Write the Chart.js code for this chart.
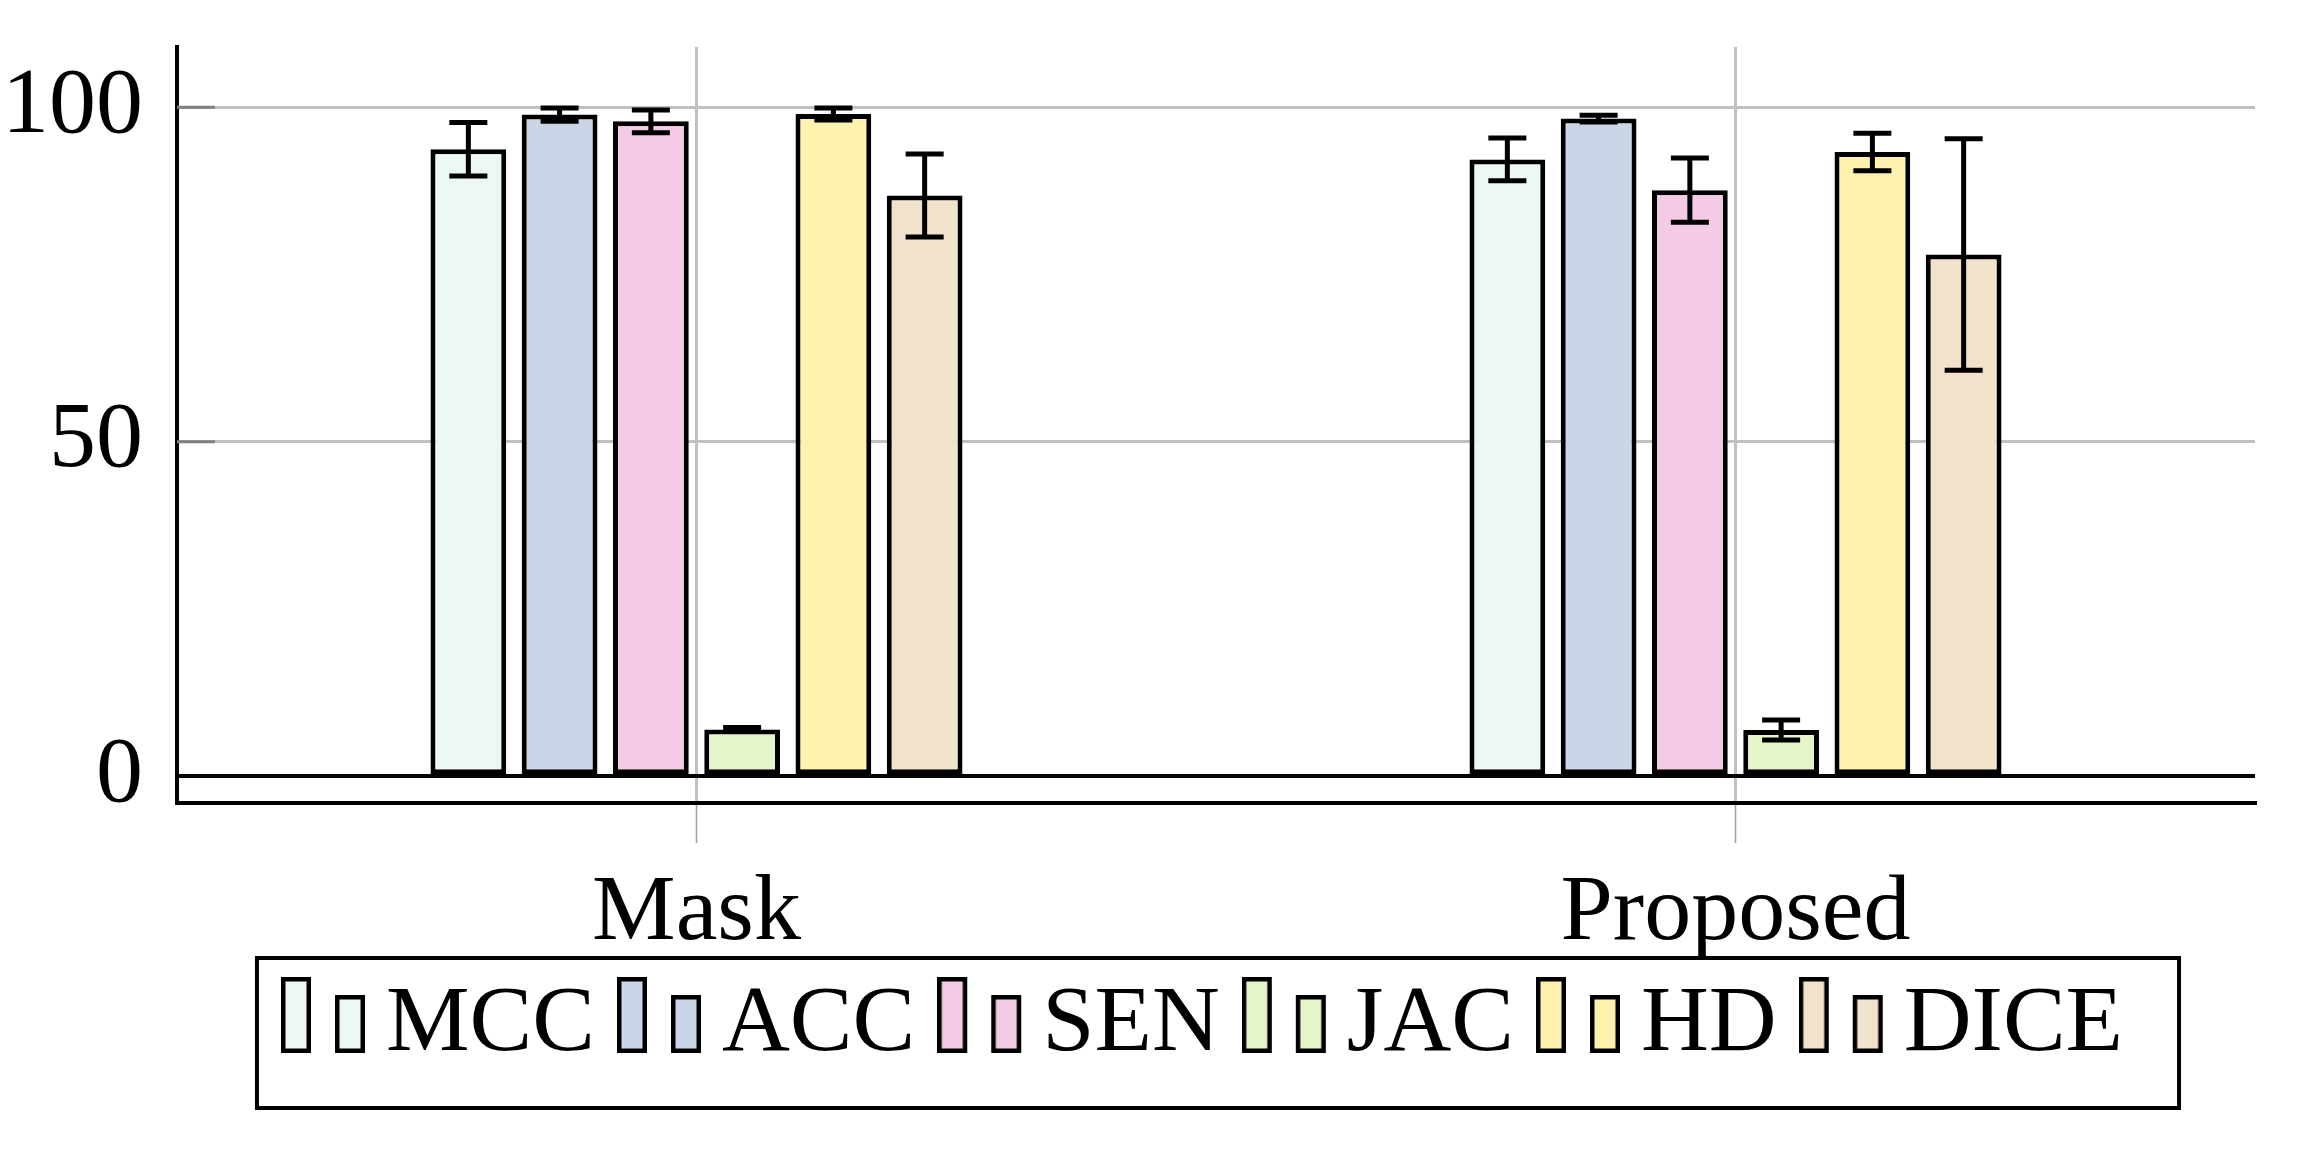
<!DOCTYPE html>
<html>
<head>
<meta charset="utf-8">
<script src="https://cdn.jsdelivr.net/npm/chart.js@4.4.1/dist/chart.umd.min.js"></script>
<style>
    html, body { margin: 0; padding: 0; background: #fff; }
    canvas { display: block; }
</style>
</head>
<body>
<canvas id="chart" width="2301" height="1157"></canvas>
<script>
var methods = ['Mask', 'Proposed'];
var metrics = ['MCC', 'ACC', 'SEN', 'JAC', 'HD', 'DICE'];
var colors = ['#ecf8f1', '#cbd5e8', '#f4cae4', '#e6f5c9', '#fff2ae', '#f1e2cc'];

// mean values, [Mask, Proposed]
var mcc = [93.7, 92.2];
var acc = [98.9, 98.3];
var sen = [97.9, 87.6];
var jac = [7.0, 6.9];
var hd = [99.0, 93.3];
var dice = [86.8, 78.0];

// error bar half heights
var mccErr = [4.0, 3.2];
var accErr = [1.0, 0.5];
var senErr = [1.7, 4.8];
var jacErr = [0.3, 1.5];
var hdErr = [0.9, 2.8];
var diceErr = [6.2, 17.3];

var yTicks = [0, 50, 100];

var values = [mcc, acc, sen, jac, hd, dice];
var errors = [mccErr, accErr, senErr, jacErr, hdErr, diceErr];
var FONT = 'Liberation Serif';

function legendIcon(color) {
    // two bars, like the pgfplots ybar legend image
    var c = document.createElement('canvas');
    c.width = 86;
    c.height = 100;
    var ctx = c.getContext('2d');
    ctx.fillStyle = color;
    ctx.strokeStyle = '#000';
    ctx.lineWidth = 4.5;
    [[0, 2, 30, 76], [54, 20, 30, 58]].forEach(function (r) {
        ctx.fillRect(r[0] + 2.25, r[1] + 2.25, r[2] - 4.5, r[3] - 4.5);
        ctx.strokeRect(r[0] + 2.25, r[1] + 2.25, r[2] - 4.5, r[3] - 4.5);
    });
    return c;
}

var icons = colors.map(legendIcon);

var errorBars = {
    id: 'errorBars',
    afterDatasetsDraw: function (chart) {
        var ctx = chart.ctx;
        var y = chart.scales.y;
        ctx.save();
        ctx.strokeStyle = '#000';
        ctx.lineWidth = 5;
        chart.data.datasets.forEach(function (ds, i) {
            var meta = chart.getDatasetMeta(i);
            meta.data.forEach(function (bar, j) {
                var top = y.getPixelForValue(ds.data[j] + ds.errors[j]);
                var bot = y.getPixelForValue(ds.data[j] - ds.errors[j]);
                ctx.beginPath();
                ctx.moveTo(bar.x, top);
                ctx.lineTo(bar.x, bot);
                ctx.moveTo(bar.x - 19, top);
                ctx.lineTo(bar.x + 19, top);
                ctx.moveTo(bar.x - 19, bot);
                ctx.lineTo(bar.x + 19, bot);
                ctx.stroke();
            });
        });
        ctx.restore();
    }
};

var extras = {
    id: 'extras',
    afterLayout: function (chart) {
        // x labels hang below the axis box, keep them from being clipped
        chart.scales.x.bottom += 60;
    },
    beforeDatasetsDraw: function (chart) {
        // short tick marks inside the y axis
        var ctx = chart.ctx;
        var y = chart.scales.y;
        var left = chart.chartArea.left;
        ctx.save();
        ctx.strokeStyle = '#808080';
        ctx.lineWidth = 3;
        yTicks.forEach(function (v) {
            if (v === 0) return;
            var py = y.getPixelForValue(v);
            ctx.beginPath();
            ctx.moveTo(left, py);
            ctx.lineTo(left + 38, py);
            ctx.stroke();
        });
        ctx.restore();
    },
    afterDraw: function (chart) {
        // frame round the legend
        var lg = chart.legend;
        var hb = lg.legendHitBoxes;
        if (!hb || !hb.length) return;
        var last = hb[hb.length - 1];
        var x1 = hb[0].left - 52;
        var x2 = last.left + last.width + 56;
        var ctx = chart.ctx;
        ctx.save();
        ctx.strokeStyle = '#000';
        ctx.lineWidth = 4;
        ctx.strokeRect(x1, lg.top + 30, x2 - x1, 150);
        ctx.restore();
    }
};

var datasets = [];
for (var i = 0; i < metrics.length; i++) {
    datasets.push({
        label: metrics[i],
        data: values[i],
        errors: errors[i],
        backgroundColor: colors[i],
        borderColor: '#000',
        borderWidth: 5,
        borderSkipped: false,
        categoryPercentage: 0.527,
        barPercentage: 0.83
    });
}

new Chart(document.getElementById('chart'), {
    type: 'bar',
    data: {
        labels: methods,
        datasets: datasets
    },
    options: {
        responsive: false,
        animation: false,
        devicePixelRatio: 1,
        layout: {
            padding: { left: 0, top: 47, right: 46, bottom: 75 }
        },
        scales: {
            x: {
                offset: true,
                grid: {
                    offset: false,
                    color: '#c0c0c0',
                    lineWidth: 3,
                    tickLength: 40,
                    tickColor: '#a0a0a0',
                    tickWidth: 1.5
                },
                border: { color: '#000', width: 4 },
                ticks: {
                    padding: 15,
                    color: '#000',
                    font: { family: FONT, size: 94 }
                },
                afterFit: function (s) {
                    s.height = 125;
                    s.paddingLeft = 0;
                    s.paddingRight = 0;
                }
            },
            y: {
                min: -4,
                max: 109,
                afterBuildTicks: function (s) {
                    s.ticks = yTicks.map(function (v) { return { value: v }; });
                },
                afterFit: function (s) {
                    s.width = 177;
                    s.paddingTop = 0;
                    s.paddingBottom = 0;
                },
                border: { color: '#000', width: 4 },
                grid: {
                    drawTicks: false,
                    color: function (c) { return c.tick && c.tick.value === 0 ? '#000' : '#c0c0c0'; },
                    lineWidth: function (c) { return c.tick && c.tick.value === 0 ? 4 : 3; }
                },
                ticks: {
                    padding: 34,
                    color: '#000',
                    font: { family: FONT, size: 94 }
                }
            }
        },
        plugins: {
            tooltip: { enabled: false },
            legend: {
                position: 'bottom',
                fullSize: false,
                labels: {
                    usePointStyle: true,
                    pointStyleWidth: 30,
                    padding: 50,
                    color: '#000',
                    font: { family: FONT, size: 94 },
                    generateLabels: function (chart) {
                        return chart.data.datasets.map(function (ds, i) {
                            return {
                                text: ds.label,
                                pointStyle: icons[i],
                                fillStyle: ds.backgroundColor,
                                strokeStyle: '#000',
                                lineWidth: 0,
                                hidden: false,
                                datasetIndex: i
                            };
                        });
                    }
                }
            }
        }
    },
    plugins: [errorBars, extras]
});
</script>
</body>
</html>
